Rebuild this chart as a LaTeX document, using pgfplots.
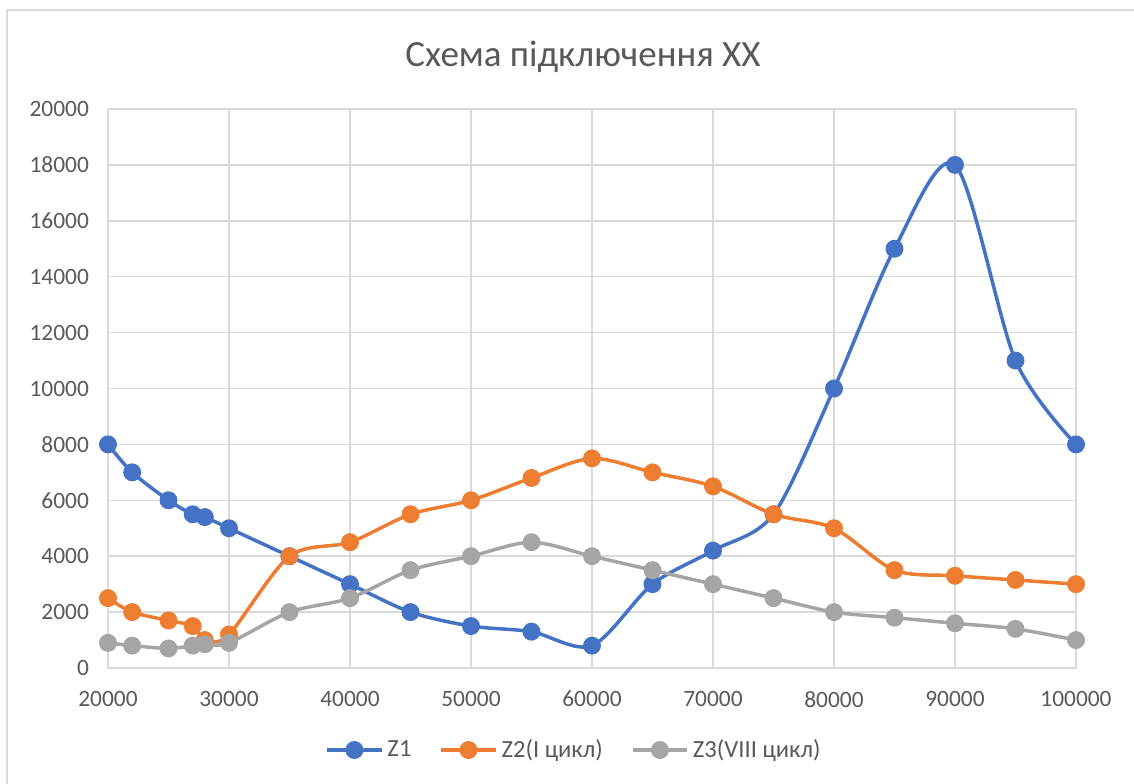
\documentclass[border=0pt]{standalone}
\usepackage{fontspec}
\setmainfont{Carlito}
\usepackage{pgfplots}
\pgfplotsset{compat=1.18}
\definecolor{zblue}{HTML}{4472C4}
\definecolor{zorange}{HTML}{ED7D31}
\definecolor{zgray}{HTML}{A5A5A5}
\definecolor{txt}{HTML}{595959}
\definecolor{grd}{HTML}{D9D9D9}
\begin{document}
\begin{tikzpicture}
\draw[grd,line width=0.75pt] (3.5pt,-10pt) -- (3.5pt,386.5pt) -- (580pt,386.5pt);
\node[txt,font=\fontsize{18.5}{22}\selectfont] at (291.5pt,363pt) {Схема підключення ХХ};
\begin{axis}[
  at={(54pt,57.5pt)}, anchor=south west,
  scale only axis, width=484pt, height=279.5pt,
  xmin=20000, xmax=100000, ymin=0, ymax=20000,
  xtick={20000,30000,...,100000},
  ytick={0,2000,...,20000},
  scaled ticks=false,
  /pgf/number format/fixed,
  /pgf/number format/1000 sep={},
  /pgf/number format/assume math mode=true,
  tick label style={font=\fontsize{11.7}{14}\selectfont, text=txt},
  xticklabel style={yshift=-8pt},
  yticklabel style={xshift=-6pt},
  axis line style={draw=none},
  major tick length=0pt,
  grid=major,
  major grid style={grd, line width=0.75pt},
  every axis plot/.append style={line width=1.75pt, smooth, tension=0.5, mark=*, mark size=3.6pt},
  legend columns=3,
  legend style={at={(0.4824,-0.1467)}, anchor=center, draw=none, fill=none,
    font=\fontsize{12.3}{14}\selectfont, text=txt,
    /tikz/every even column/.append style={column sep=12pt}},
  legend image code/.code={\draw[mark repeat=2,mark phase=2] plot coordinates {(0cm,0cm) (0.48cm,0cm) (0.96cm,0cm)};},
]
\draw[grd, line width=0.75pt] (axis cs:20000,0) -- (axis cs:100000,0);
\addplot[zblue, mark options={fill=zblue, draw=zblue}] coordinates {
(20000,8000)(22000,7000)(25000,6000)(27000,5500)(28000,5400)(30000,5000)
(35000,4000)(40000,3000)(45000,2000)(50000,1500)(55000,1300)(60000,800)
(65000,3000)(70000,4200)(75000,5500)(80000,10000)(85000,15000)(90000,18000)
(95000,11000)(100000,8000)};
\addlegendentry{Z1}
\addplot[zorange, mark options={fill=zorange, draw=zorange}] coordinates {
(20000,2500)(22000,2000)(25000,1700)(27000,1500)(28000,1000)(30000,1200)
(35000,4000)(40000,4500)(45000,5500)(50000,6000)(55000,6800)(60000,7500)
(65000,7000)(70000,6500)(75000,5500)(80000,5000)(85000,3500)(90000,3300)
(95000,3150)(100000,3000)};
\addlegendentry{Z2(I цикл)}
\addplot[zgray, mark options={fill=zgray, draw=zgray}] coordinates {
(20000,900)(22000,800)(25000,700)(27000,800)(28000,850)(30000,900)
(35000,2000)(40000,2500)(45000,3500)(50000,4000)(55000,4500)(60000,4000)
(65000,3500)(70000,3000)(75000,2500)(80000,2000)(85000,1800)(90000,1600)
(95000,1400)(100000,1000)};
\addlegendentry{Z3(VIII цикл)}
\end{axis}
\pgfresetboundingbox
\path[use as bounding box] (0pt,0pt) rectangle (567pt,391.5pt);
\end{tikzpicture}
\end{document}
